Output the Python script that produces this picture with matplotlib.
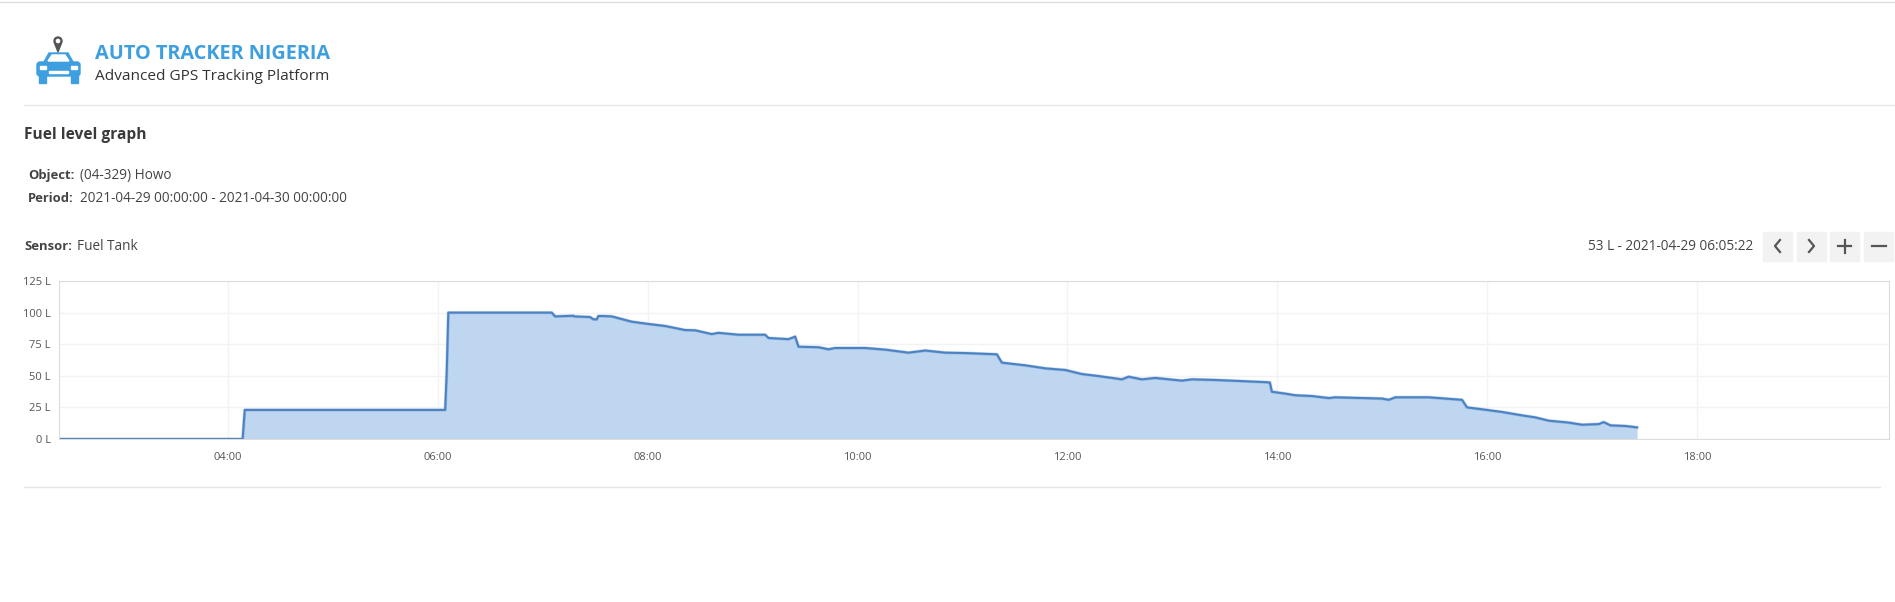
import matplotlib.pyplot as plt
from matplotlib.patches import Rectangle, FancyBboxPatch, Polygon, Circle
from matplotlib.lines import Line2D

# fuel level readings, time in hours of 2021-04-29
hours = [2.39, 4.14, 4.16, 6.07, 6.085, 6.10, 7.086, 7.118, 7.293, 7.30, 7.45,
         7.483, 7.515, 7.53, 7.579, 7.658, 7.849, 8.008, 8.167, 8.357, 8.453,
         8.611, 8.675, 8.866, 9.120, 9.152, 9.342, 9.406, 9.438, 9.628, 9.723,
         9.787, 10.073, 10.264, 10.486, 10.645, 10.836, 11.027, 11.328, 11.376,
         11.598, 11.789, 11.980, 12.138, 12.297, 12.520, 12.583, 12.710, 12.838,
         13.092, 13.187, 13.410, 13.886, 13.93, 13.949, 14.077, 14.172, 14.331,
         14.490, 14.554, 14.998, 15.062, 15.126, 15.443, 15.602, 15.761, 15.809,
         15.951, 16.142, 16.333, 16.460, 16.587, 16.778, 16.905, 17.064, 17.111,
         17.175, 17.318, 17.429]
fuel = [0, 0, 23, 23, 53, 100, 100, 97, 97.5, 97, 96.5,
        94.7, 94.7, 97.3, 97.3, 97, 92.8, 91, 89.4, 86.2, 86,
        83, 84, 82.5, 82.5, 79.9, 79, 81, 73, 72.6, 71,
        72, 72, 70.7, 68.3, 70, 68.3, 68, 67, 60.4,
        58.3, 55.9, 54.6, 51.4, 49.8, 47.2, 49.3, 47.2, 48.3,
        46.2, 47.2, 46.7, 45, 44.7, 37.4, 35.9, 34.6, 34,
        32.4, 33, 32, 31, 33, 33, 32, 31, 25,
        23.5, 21.4, 18.7, 17.1, 14.5, 13, 11.3, 11.8, 13.4,
        10.8, 10.3, 9.2]

x_ticks = [4, 6, 8, 10, 12, 14, 16, 18]
x_labels = ["04:00", "06:00", "08:00", "10:00", "12:00", "14:00", "16:00", "18:00"]
y_ticks = [0, 25, 50, 75, 100, 125]
y_labels = ["0 L", "25 L", "50 L", "75 L", "100 L", "125 L"]

W, H = 1895, 602
plt.rcParams['font.family'] = ['Open Sans', 'DejaVu Sans']

fig = plt.figure(figsize=(W / 100, H / 100), dpi=100)


def fx(x):
    return x / W


def fy(y):
    return 1 - y / H


def hline(y, x0, x1, color='#e6e6e6'):
    fig.add_artist(Line2D([fx(x0), fx(x1)], [fy(y), fy(y)], color=color, lw=1))


hline(2, 0, W, '#dddddd')
hline(105, 24, W)
hline(487, 24, 1880)

# logo
lax = fig.add_axes([fx(30), fy(90), fx(60), 60 / H])
lax.set_xlim(30, 90)
lax.set_ylim(90, 30)
lax.axis('off')
blue = '#3d9ee0'
lax.add_patch(Polygon([(44, 62), (49, 53), (68, 53), (73, 62)], color=blue))
lax.add_patch(FancyBboxPatch((37, 62), 43, 14, boxstyle="round,pad=0,rounding_size=3", color=blue))
lax.add_patch(Rectangle((39, 75), 7, 8, color=blue))
lax.add_patch(Rectangle((71, 75), 7, 8, color=blue))
lax.add_patch(Polygon([(48, 61), (52, 55), (65, 55), (69, 61)], color='white'))
lax.add_patch(Rectangle((40, 66), 6, 2.5, color='white'))
lax.add_patch(Rectangle((71, 66), 6, 2.5, color='white'))
lax.add_patch(Rectangle((49, 71), 19, 1.5, color='white'))
lax.add_patch(Polygon([(54.5, 43), (61.5, 43), (58, 52)], color='#555555'))
lax.add_patch(Circle((58, 41), 4, color='#555555'))
lax.add_patch(Circle((58, 41), 1.6, color='white'))

fig.text(fx(95), fy(54), "AUTO TRACKER NIGERIA", color=blue, fontsize=14.3,
         fontweight='bold', va='center')
fig.text(fx(95), fy(77), "Advanced GPS Tracking Platform", color='#333333',
         fontsize=11.1, va='center')

dark = '#444444'
fs = 9.8
lfs = 9.4
fig.text(fx(24), fy(135), "Fuel level graph", color='#3a3a3a', fontsize=11.2,
         fontweight='bold', va='center')
fig.text(fx(28), fy(175), "Object:", color=dark, fontsize=lfs, fontweight='bold', va='center')
fig.text(fx(80), fy(175), "(04-329) Howo", color=dark, fontsize=fs, va='center')
fig.text(fx(28), fy(199), "Period:", color=dark, fontsize=lfs, fontweight='bold', va='center')
fig.text(fx(80), fy(199), "2021-04-29 00:00:00 - 2021-04-30 00:00:00", color=dark,
         fontsize=fs, va='center')
fig.text(fx(24), fy(247), "Sensor:", color=dark, fontsize=lfs, fontweight='bold', va='center')
fig.text(fx(77), fy(247), "Fuel Tank", color=dark, fontsize=fs, va='center')
fig.text(fx(1753), fy(247), "53 L - 2021-04-29 06:05:22", color=dark, fontsize=fs,
         va='center', ha='right')

# navigation buttons
btn_x = [1763, 1797, 1830, 1864]
for bx in btn_x:
    fig.add_artist(Rectangle((fx(bx), fy(261)), 29 / W, 29 / H, color='#f2f2f2',
                             transform=fig.transFigure))
gl = dict(color='#555555', lw=1.6, transform=fig.transFigure)
fig.add_artist(Line2D([fx(1780), fx(1775), fx(1780)], [fy(240), fy(246), fy(252)], **gl))
fig.add_artist(Line2D([fx(1809), fx(1814), fx(1809)], [fy(240), fy(246), fy(252)], **gl))
fig.add_artist(Line2D([fx(1838), fx(1851)], [fy(246), fy(246)], **gl))
fig.add_artist(Line2D([fx(1844.5), fx(1844.5)], [fy(239.5), fy(252.5)], **gl))
fig.add_artist(Line2D([fx(1872), fx(1886)], [fy(246), fy(246)], **gl))

# chart
ax = fig.add_axes([fx(59), fy(439), (1889 - 59) / W, (439 - 281) / H])
ax.fill_between(hours, fuel, 0, color='#bed6f0', lw=0)
ax.plot(hours, fuel, color='#3a72b5', lw=2.4, alpha=0.25)
ax.plot(hours, fuel, color='#4a82c4', lw=1.5)
ax.set_xlim(2.39, 19.83)
ax.set_ylim(0, 125)
ax.set_xticks(x_ticks)
ax.set_xticklabels(x_labels)
ax.set_yticks(y_ticks)
ax.set_yticklabels(y_labels)
ax.tick_params(length=0, labelsize=8, colors='#555555', pad=6)
ax.tick_params(axis='x', pad=9)
ax.grid(True, color='#f3f3f3', lw=1)
ax.set_axisbelow(True)
for s in ax.spines.values():
    s.set_color('#dcdcdc')

fig.savefig("out.png", dpi=100)
